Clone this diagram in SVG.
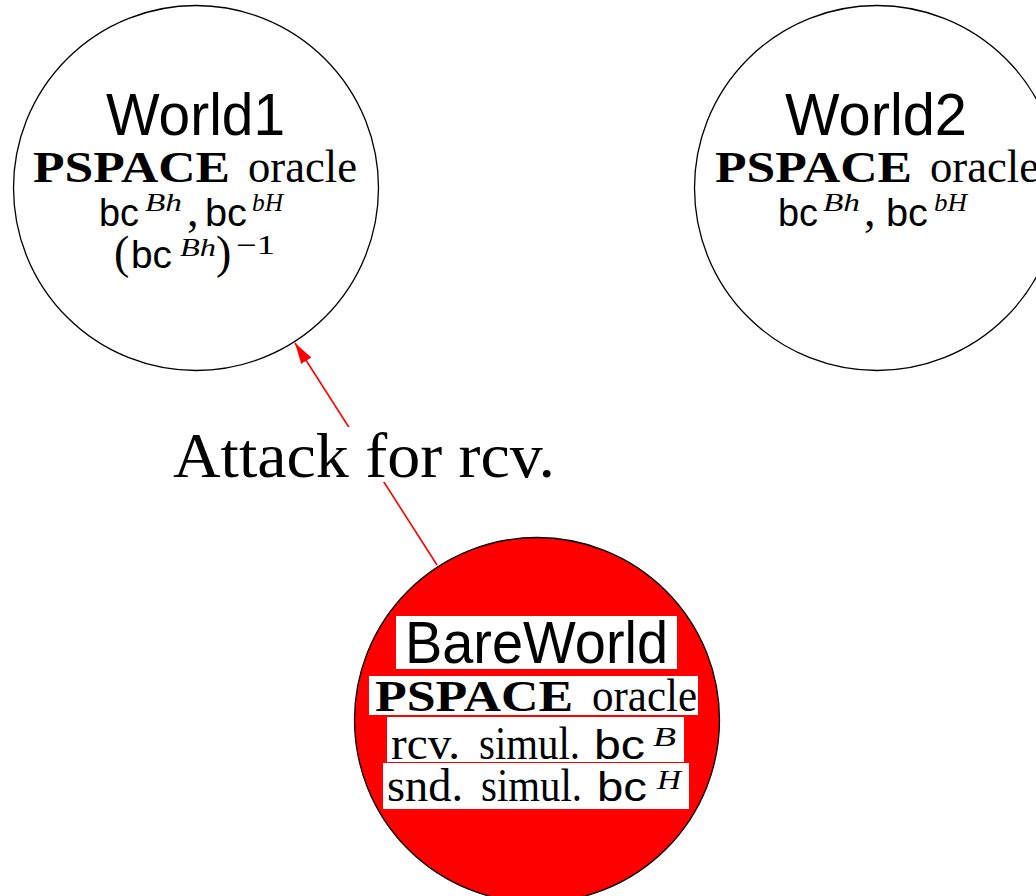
<svg xmlns="http://www.w3.org/2000/svg" width="1036" height="896" viewBox="0 0 1036 896">
<style>
.node{fill:#fff;stroke:#000;stroke-width:1.3}
.red{fill:#ff0000;stroke:#000;stroke-width:1.3}
.ttl{font-family:"Liberation Sans",Arial,sans-serif;font-size:59px;fill:#000}
.bf{font-family:"Liberation Serif","Times New Roman",serif;font-weight:bold;font-size:44px;fill:#000}
.rm{font-family:"Liberation Serif","Times New Roman",serif;font-size:46px;fill:#000}
.sf{font-family:"Liberation Sans",Arial,sans-serif;font-size:38px;fill:#000}
.sfb{font-family:"Liberation Sans",Arial,sans-serif;font-size:41px;fill:#000}
.it{font-family:"Liberation Serif","Times New Roman",serif;font-style:italic;font-size:26px;fill:#000}
.up{font-family:"Liberation Serif","Times New Roman",serif;font-size:27px;fill:#000}
.itb{font-family:"Liberation Serif","Times New Roman",serif;font-style:italic;font-size:28px;fill:#000}
.lbl{font-family:"Liberation Serif","Times New Roman",serif;font-size:64px;fill:#000}
.wbg{fill:#fff}
</style>
<defs>
<marker id="ah" markerUnits="userSpaceOnUse" markerWidth="22" markerHeight="14" refX="21" refY="6" orient="auto">
<path d="M0,0 L21,6 L0,12 z" fill="#ff0000"/>
</marker>
</defs>
<g id="connectors">
<line x1="437" y1="565" x2="295" y2="343" stroke="#ff0000" stroke-width="1.6" marker-end="url(#ah)"/>
<rect class="wbg" x="168" y="427" width="392" height="55"/>
<text class="lbl" x="173" y="477" textLength="382" lengthAdjust="spacingAndGlyphs">Attack for rcv.</text>
</g>
<g id="world1">
<circle class="node" cx="196" cy="188" r="182.5"/>
<text class="ttl" x="106" y="135" textLength="179" lengthAdjust="spacingAndGlyphs">World1</text>
<text class="bf" x="33" y="182" textLength="197" lengthAdjust="spacingAndGlyphs">PSPACE</text>
<text class="rm" x="248" y="182" textLength="109" lengthAdjust="spacingAndGlyphs">oracle</text>
<text class="sf" x="99" y="226" textLength="40" lengthAdjust="spacingAndGlyphs">bc</text>
<text class="it" x="145" y="211" textLength="37" lengthAdjust="spacingAndGlyphs">Bh</text>
<text class="rm" x="187" y="226">,</text>
<text class="sf" x="205" y="226" textLength="42" lengthAdjust="spacingAndGlyphs">bc</text>
<text class="it" x="252" y="211" textLength="31" lengthAdjust="spacingAndGlyphs">bH</text>
<text class="rm" x="114" y="268">(</text>
<text class="sf" x="131" y="268" textLength="41" lengthAdjust="spacingAndGlyphs">bc</text>
<text class="it" x="180" y="256" textLength="36" lengthAdjust="spacingAndGlyphs">Bh</text>
<text class="rm" x="216" y="268">)</text>
<text class="up" x="236" y="254" textLength="39" lengthAdjust="spacingAndGlyphs">−1</text>
</g>
<g id="world2">
<circle class="node" cx="877" cy="188" r="182.5"/>
<text class="ttl" x="785" y="135" textLength="182" lengthAdjust="spacingAndGlyphs">World2</text>
<text class="bf" x="715" y="182" textLength="197" lengthAdjust="spacingAndGlyphs">PSPACE</text>
<text class="rm" x="930" y="182" textLength="109" lengthAdjust="spacingAndGlyphs">oracle</text>
<text class="sf" x="778" y="226" textLength="40" lengthAdjust="spacingAndGlyphs">bc</text>
<text class="it" x="823" y="211" textLength="37" lengthAdjust="spacingAndGlyphs">Bh</text>
<text class="rm" x="864" y="226">,</text>
<text class="sf" x="886" y="226" textLength="42" lengthAdjust="spacingAndGlyphs">bc</text>
<text class="it" x="934" y="211" textLength="33" lengthAdjust="spacingAndGlyphs">bH</text>
</g>
<g id="bareworld">
<circle class="red" cx="537" cy="720" r="182.5"/>
<rect class="wbg" x="396" y="616" width="281" height="53"/>
<rect class="wbg" x="369" y="676" width="329" height="39"/>
<rect class="wbg" x="387" y="717" width="297" height="45"/>
<rect class="wbg" x="383" y="763" width="306" height="46"/>
<text class="ttl" x="405" y="663" textLength="263" lengthAdjust="spacingAndGlyphs">BareWorld</text>
<text class="bf" x="375" y="711" textLength="198" lengthAdjust="spacingAndGlyphs">PSPACE</text>
<text class="rm" x="592" y="711" textLength="105" lengthAdjust="spacingAndGlyphs">oracle</text>
<text class="rm" x="391" y="759" textLength="69" lengthAdjust="spacingAndGlyphs">rcv.</text>
<text class="rm" x="479" y="759" textLength="101" lengthAdjust="spacingAndGlyphs">simul.</text>
<text class="sfb" x="594" y="759" textLength="51" lengthAdjust="spacingAndGlyphs">bc</text>
<text class="itb" x="653" y="746" textLength="23" lengthAdjust="spacingAndGlyphs">B</text>
<text class="rm" x="387" y="801" textLength="76" lengthAdjust="spacingAndGlyphs">snd.</text>
<text class="rm" x="481" y="801" textLength="101" lengthAdjust="spacingAndGlyphs">simul.</text>
<text class="sfb" x="597" y="801" textLength="50" lengthAdjust="spacingAndGlyphs">bc</text>
<text class="itb" x="657" y="789" textLength="24" lengthAdjust="spacingAndGlyphs">H</text>
</g>
</svg>
